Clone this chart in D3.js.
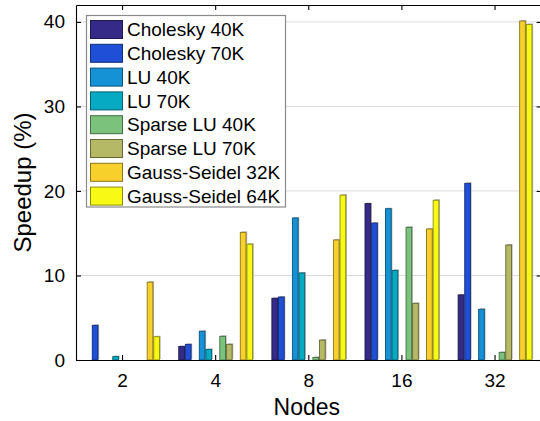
<!DOCTYPE html>
<html>
<head>
  <meta charset="utf-8">
  <title>Speedup vs Nodes</title>
  <style>
    body { margin: 0; background: #fff; }
    text { font-family: "Liberation Sans", Arial, sans-serif; }
  </style>
</head>
<body>
  <svg id="chart"></svg>

  <script src="https://d3js.org/d3.v7.min.js"></script>
  <script>
    // Data
    const nodes = ["2", "4", "8", "16", "32"];
    const seriesNames = ["Cholesky 40K", "Cholesky 70K", "LU 40K", "LU 70K",
                         "Sparse LU 40K", "Sparse LU 70K", "Gauss-Seidel 32K", "Gauss-Seidel 64K"];
    const seriesColors = ["#352a87", "#1f4fd6", "#1591d6", "#07aac3",
                          "#7bc27c", "#b5b865", "#f8d02c", "#f8f914"];
    const cholesky40 = [0, 1.6, 7.3, 18.5, 7.7];
    const cholesky70 = [4.1, 1.85, 7.45, 16.2, 20.9];
    const lu40 = [0, 3.4, 16.8, 17.9, 6.0];
    const lu70 = [0.4, 1.25, 10.3, 10.6, 0];
    const sparse40 = [0, 2.8, 0.3, 15.7, 0.9];
    const sparse70 = [0, 1.85, 2.35, 6.7, 13.6];
    const gauss32 = [9.2, 15.1, 14.2, 15.5, 40.1];
    const gauss64 = [2.75, 13.7, 19.5, 18.9, 39.7];
    const yTicks = [0, 10, 20, 30, 40];

    const allSeries = [cholesky40, cholesky70, lu40, lu70, sparse40, sparse70, gauss32, gauss64];

    const width = 540, height = 421;
    const margin = { left: 76, right: -1.6, top: 5, bottom: 61 };
    const plotRight = width - margin.right;
    const plotBottom = height - margin.bottom;

    const svg = d3.select("#chart")
      .attr("width", width)
      .attr("height", height);

    // Scales: nodes -> algorithm pair -> size within pair
    const x0 = d3.scaleBand().domain(nodes).range([margin.left, plotRight]);
    const x1 = d3.scaleBand().domain([0, 1, 2, 3]).range([0, x0.bandwidth()])
      .paddingInner(0.4).paddingOuter(0.47);
    const x2 = d3.scaleBand().domain([0, 1]).range([0, x1.bandwidth()])
      .paddingInner(0.14);
    const y = d3.scaleLinear().domain([0, 42]).range([plotBottom, margin.top]);

    // Grid lines
    svg.append("g")
      .selectAll("line")
      .data(yTicks.filter(d => d > 0))
      .enter().append("line")
      .attr("x1", margin.left).attr("x2", plotRight)
      .attr("y1", d => y(d)).attr("y2", d => y(d))
      .attr("stroke", "#dcdcdc").attr("stroke-width", 1);

    // Flatten bars
    const bars = [];
    allSeries.forEach((vals, s) => {
      vals.forEach((v, i) => {
        if (v > 0) bars.push({ node: nodes[i], s: s, value: v });
      });
    });
    const barX = d => x0(d.node) + x1(Math.floor(d.s / 2)) + x2(d.s % 2);

    // Shadows
    svg.append("g")
      .selectAll("rect")
      .data(bars)
      .enter().append("rect")
      .attr("x", d => barX(d) + 1.2)
      .attr("y", d => y(d.value) - 1)
      .attr("width", x2.bandwidth())
      .attr("height", d => plotBottom - y(d.value))
      .attr("fill", "#b4b4b4");

    // Bars
    svg.append("g")
      .selectAll("rect")
      .data(bars)
      .enter().append("rect")
      .attr("x", d => barX(d))
      .attr("y", d => y(d.value))
      .attr("width", x2.bandwidth())
      .attr("height", d => plotBottom - y(d.value))
      .attr("fill", d => seriesColors[d.s])
      .attr("stroke", d => d3.color(seriesColors[d.s]).darker(1.6))
      .attr("stroke-width", 0.9);

    // Axes
    const fontSize = "19px";
    const yAxis = svg.append("g")
      .attr("transform", `translate(${margin.left},0)`)
      .call(d3.axisLeft(y).tickValues(yTicks).tickSizeInner(-5).tickSizeOuter(0).tickPadding(11));
    yAxis.selectAll("text").style("font-size", fontSize).attr("fill", "#000");

    const xAxis = svg.append("g")
      .attr("transform", `translate(0,${plotBottom})`)
      .call(d3.axisBottom(x0).tickSizeInner(-5).tickSizeOuter(0).tickPadding(14));
    xAxis.selectAll("text").style("font-size", fontSize).attr("fill", "#000");

    svg.append("g")
      .attr("transform", `translate(0,${margin.top})`)
      .call(d3.axisTop(x0).tickSizeInner(-5).tickSizeOuter(0).tickFormat(""));
    svg.append("g")
      .attr("transform", `translate(${plotRight},0)`)
      .call(d3.axisRight(y).tickValues(yTicks).tickSizeInner(-5).tickSizeOuter(0).tickFormat(""));

    svg.selectAll(".domain, .tick line").attr("stroke", "#000").attr("stroke-width", 1.1);

    // Axis titles
    svg.append("text")
      .attr("x", (margin.left + plotRight) / 2 - 2)
      .attr("y", 415)
      .attr("text-anchor", "middle")
      .style("font-size", "23px")
      .text("Nodes");

    svg.append("text")
      .attr("transform", `translate(31,${(margin.top + plotBottom) / 2}) rotate(-90)`)
      .attr("text-anchor", "middle")
      .style("font-size", "24px")
      .text("Speedup (%)");

    // Legend
    const legend = svg.append("g");
    legend.append("rect")
      .attr("x", 86.5).attr("y", 15.5)
      .attr("width", 199).attr("height", 191.5)
      .attr("fill", "#fff")
      .attr("stroke", "#8a8a8a").attr("stroke-width", 1.2);

    const items = legend.selectAll(".legend-item")
      .data(seriesNames)
      .enter().append("g")
      .attr("class", "legend-item")
      .attr("transform", (d, i) => `translate(0,${29.5 + i * 23.8})`);

    items.append("rect")
      .attr("x", 90.5).attr("y", -9)
      .attr("width", 32).attr("height", 18)
      .attr("fill", (d, i) => seriesColors[i])
      .attr("stroke", (d, i) => d3.color(seriesColors[i]).darker(1.6))
      .attr("stroke-width", 1);

    items.append("text")
      .attr("x", 127)
      .attr("dy", "0.35em")
      .style("font-size", fontSize)
      .text(d => d);
  </script>
</body>
</html>
